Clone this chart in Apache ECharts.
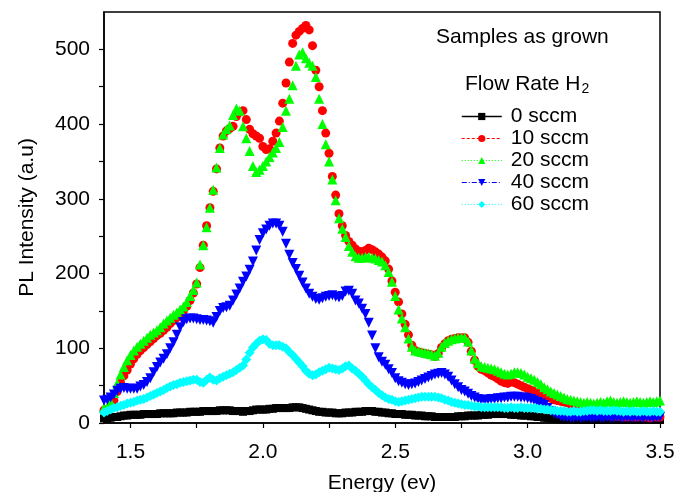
<!DOCTYPE html>
<html>
<head>
<meta charset="utf-8">
<script src="https://cdn.jsdelivr.net/npm/echarts@6/dist/echarts.min.js"></script>
<style>
  html, body { margin: 0; padding: 0; background: #fff; }
  #chart { width: 674px; height: 492px; }
</style>
</head>
<body>
<div id="chart"></div>
<script>
// Photon energy grid (eV)
const energy = [
  1.4,1.4125,1.425,1.4375,1.45,1.4625,1.475,1.4875,
  1.5,1.5125,1.525,1.5375,1.55,1.5625,1.575,1.5875,
  1.6,1.6125,1.625,1.6375,1.65,1.6625,1.675,1.6875,
  1.7,1.7125,1.725,1.7375,1.75,1.7625,1.775,1.7875,
  1.8,1.8125,1.825,1.8375,1.85,1.8625,1.875,1.8875,
  1.9,1.9125,1.925,1.9375,1.95,1.9625,1.975,1.9875,
  2.0,2.0125,2.025,2.0375,2.05,2.0625,2.075,2.0875,
  2.1,2.1125,2.125,2.1375,2.15,2.1625,2.175,2.1875,
  2.2,2.2125,2.225,2.2375,2.25,2.2625,2.275,2.2875,
  2.3,2.3125,2.325,2.3375,2.35,2.3625,2.375,2.3875,
  2.4,2.4125,2.425,2.4375,2.45,2.4625,2.475,2.4875,
  2.5,2.5125,2.525,2.5375,2.55,2.5625,2.575,2.5875,
  2.6,2.6125,2.625,2.6375,2.65,2.6625,2.675,2.6875,
  2.7,2.7125,2.725,2.7375,2.75,2.7625,2.775,2.7875,
  2.8,2.8125,2.825,2.8375,2.85,2.8625,2.875,2.8875,
  2.9,2.9125,2.925,2.9375,2.95,2.9625,2.975,2.9875,
  3.0,3.0125,3.025,3.0375,3.05,3.0625,3.075,3.0875,
  3.1,3.1125,3.125,3.1375,3.15,3.1625,3.175,3.1875,
  3.2,3.2125,3.225,3.2375,3.25,3.2625,3.275,3.2875,
  3.3,3.3125,3.325,3.3375,3.35,3.3625,3.375,3.3875,
  3.4,3.4125,3.425,3.4375,3.45,3.4625,3.475,3.4875,
  3.5
];

// PL intensity (a.u.) for each H2 flow rate
const sccm0 = [
  6,6,7,8,8,9,10,10,
  11,11,11,11,12,12,12,12,
  12,13,13,13,13,13,14,14,
  14,14,15,15,15,15,16,16,
  16,16,16,17,17,17,17,16,
  16,16,15,16,16,17,18,18,
  18,18,19,19,20,20,20,20,
  20,21,21,21,20,19,18,17,
  16,15,15,14,14,14,13,13,
  13,14,14,14,15,15,15,16,
  16,16,15,15,14,14,13,13,
  12,12,12,11,11,11,10,10,
  10,9,9,9,8,8,8,8,
  8,8,8,9,9,9,10,10,
  10,10,11,11,11,12,12,12,
  12,12,12,11,11,11,10,10,
  10,9,9,8,8,7,7,6,
  6,6,5,5,5,5,5,4,
  4,4,4,4,4,4,4,4,
  4,4,4,4,4,4,4,4,
  4,4,4,4,4,4,4,4,
  4
];

const sccm10 = [
  17,18,22,30,42,54,63,71,
  79,86,92,97,101,105,109,113,
  117,120,124,128,133,137,141,146,
  150,156,164,174,186,208,238,264,
  288,310,340,368,384,391,394,397,
  410,416,418,406,393,387,384,381,
  370,366,367,377,388,404,428,455,
  483,508,519,524,528,532,526,505,
  472,450,418,388,361,330,305,280,
  264,251,243,238,233,230,229,231,
  234,232,229,226,222,217,206,190,
  175,162,146,132,118,104,97,95,
  94,93,92,91,89,93,101,106,
  110,112,113,114,114,114,108,96,
  84,76,72,70,67,64,62,59,
  56,54,53,55,54,52,50,48,
  46,44,42,40,38,36,35,33,
  31,30,29,28,27,25,23,21,
  19,17,15,14,13,12,11,11,
  10,10,9,9,9,8,8,9,
  8,8,9,8,8,7,8,8,
  8
];

const sccm20 = [
  20,21,28,40,53,65,75,84,
  91,97,102,106,110,114,118,121,
  124,128,133,137,141,145,148,152,
  156,162,170,178,188,212,238,262,
  288,312,342,368,386,393,398,412,
  421,418,397,381,364,344,336,339,
  344,350,356,362,368,376,396,418,
  434,452,478,493,496,488,482,478,
  463,434,400,373,350,326,298,274,
  260,249,237,229,223,221,221,222,
  222,221,220,218,216,211,202,189,
  170,152,140,128,113,102,97,96,
  95,94,93,92,90,94,102,107,
  110,112,113,114,114,114,109,97,
  86,80,76,75,74,73,72,70,
  68,66,65,66,68,68,67,65,
  62,60,58,55,52,48,45,42,
  40,38,36,34,32,31,30,29,
  28,27,28,27,26,27,28,27,
  29,30,28,27,28,29,28,27,
  28,29,28,27,28,29,28,29,
  30
];

const sccm40 = [
  30,31,34,38,43,46,47,46,
  46,46,46,49,51,55,60,68,
  75,81,86,92,100,108,118,128,
  135,139,140,140,139,138,138,137,
  136,134,142,150,154,155,157,164,
  172,180,189,196,205,216,231,245,
  254,259,264,267,267,264,256,240,
  225,214,206,197,188,180,173,169,
  166,165,167,169,170,171,169,168,
  170,176,177,173,164,160,153,146,
  134,117,100,88,82,78,72,67,
  60,56,54,52,51,52,53,55,
  57,59,61,63,65,66,67,65,
  62,57,52,48,44,42,39,36,
  34,32,31,31,31,32,32,33,
  33,34,34,35,35,35,34,34,
  33,32,30,28,26,24,20,16,
  13,11,9,8,8,7,7,8,
  7,7,8,7,7,8,7,7,
  8,7,7,8,7,7,8,7,
  7,8,7,7,8,7,7,8,
  8
];

const sccm60 = [
  14,16,18,20,21,23,24,26,
  27,28,30,31,32,34,36,38,
  40,42,44,47,49,51,52,54,
  55,56,57,58,58,55,54,58,
  61,58,57,60,62,64,66,68,
  71,74,77,85,94,101,106,110,
  112,111,106,104,104,104,102,100,
  95,91,86,81,76,70,66,64,
  65,68,70,72,74,73,72,71,
  73,76,77,73,70,66,62,57,
  52,48,44,40,37,34,32,31,
  29,28,29,30,31,32,33,34,
  35,35,35,35,35,34,33,31,
  30,28,27,26,25,24,24,23,
  22,22,21,21,21,21,21,21,
  21,20,20,21,20,20,21,20,
  20,20,20,19,19,18,18,17,
  17,16,16,16,15,15,16,15,
  15,16,16,17,17,16,17,16,
  16,16,17,16,16,15,16,15,
  16,15,15,16,15,15,16,15,
  15
];

const seriesNames = ['0 sccm', '10 sccm', '20 sccm', '40 sccm', '60 sccm'];
const xTicks = [1.5, 1.75, 2.0, 2.25, 2.5, 2.75, 3.0, 3.25, 3.5];
const xTickLabels = [1.5, 2.0, 2.5, 3.0, 3.5];
const yTicks = [0, 50, 100, 150, 200, 250, 300, 350, 400, 450, 500];
const yTickLabels = [0, 100, 200, 300, 400, 500];

const FONT = '"Liberation Sans", Arial, sans-serif';

function pairs(ys) { return energy.map((e, i) => [e, ys[i]]); }

const styles = [
  { data: sccm0,  color: '#000000', symbol: 'rect',     size: 8,  rotate: 0,   line: 'solid',      lw: 1.5 },
  { data: sccm10, color: '#ff0000', symbol: 'circle',   size: 9,  rotate: 0,   line: [3, 2],       lw: 1 },
  { data: sccm20, color: '#00ff00', symbol: 'triangle', size: 10, rotate: 0,   line: [1, 2],       lw: 1 },
  { data: sccm40, color: '#0000ff', symbol: 'triangle', size: 10, rotate: 180, line: [5, 2, 1, 2], lw: 1 },
  { data: sccm60, color: '#00ffff', symbol: 'diamond',  size: 10, rotate: 0,   line: [1, 2],       lw: 1 }
];

const chart = echarts.init(document.getElementById('chart'), null, { renderer: 'canvas' });

chart.setOption({
  animation: false,
  backgroundColor: '#ffffff',
  title: [
    {
      text: 'Samples as grown',
      left: 436, top: 27, padding: 0,
      textStyle: { fontFamily: FONT, fontSize: 21, fontWeight: 'normal', color: '#000' }
    },
    {
      text: 'Flow Rate H{sub|2}',
      left: 465, top: 73, padding: 0,
      textStyle: {
        fontFamily: FONT, fontSize: 21, fontWeight: 'normal', color: '#000',
        rich: { sub: { fontFamily: FONT, fontSize: 14, color: '#000', padding: [9, 0, 0, 1] } }
      }
    }
  ],
  legend: {
    orient: 'vertical',
    left: 456, top: 101,
    itemWidth: 40, itemHeight: 9, itemGap: 1,
    selectedMode: false,
    textStyle: { fontFamily: FONT, fontSize: 21, color: '#000', lineHeight: 21, padding: [0, 0, 0, 4] },
    data: seriesNames.map((n, i) => ({
      name: n,
      lineStyle: { width: styles[i].lw, type: styles[i].line, color: styles[i].color, opacity: 1 }
    }))
  },
  grid: {
    left: 104, right: 14, top: 12, bottom: 69,
    outerBoundsMode: 'none',
    containLabel: false,
    show: true, borderColor: '#000', borderWidth: 1.5, backgroundColor: 'transparent'
  },
  xAxis: {
    type: 'value',
    min: 1.4, max: 3.5,
    name: 'Energy (ev)',
    nameLocation: 'middle', nameGap: 50,
    nameTextStyle: { fontFamily: FONT, fontSize: 21, color: '#000' },
    axisLine: { show: true, lineStyle: { color: '#000', width: 1.5 } },
    axisTick: { show: true, inside: false, length: 5, lineStyle: { color: '#000', width: 1.2 }, customValues: xTicks },
    axisLabel: {
      customValues: xTickLabels,
      fontFamily: FONT, fontSize: 21, color: '#000', margin: 19,
      formatter: v => Number(v).toFixed(1)
    },
    splitLine: { show: false }
  },
  yAxis: {
    type: 'value',
    min: 0, max: 550,
    name: 'PL Intensity (a.u)',
    nameLocation: 'middle', nameGap: 66, nameRotate: 90,
    nameTextStyle: { fontFamily: FONT, fontSize: 21, color: '#000' },
    axisLine: { show: true, lineStyle: { color: '#000', width: 1.5 } },
    axisTick: { show: true, inside: false, length: 5, lineStyle: { color: '#000', width: 1.2 }, customValues: yTicks },
    axisLabel: {
      customValues: yTickLabels,
      fontFamily: FONT, fontSize: 21, color: '#000', margin: 14
    },
    splitLine: { show: false }
  },
  series: seriesNames.map((n, i) => ({
    name: n,
    type: 'line',
    data: pairs(styles[i].data),
    symbol: styles[i].symbol,
    symbolSize: styles[i].size,
    symbolRotate: styles[i].rotate,
    showSymbol: true,
    showAllSymbol: true,
    color: styles[i].color,
    itemStyle: { color: styles[i].color, borderWidth: 0 },
    lineStyle: { width: 0, color: styles[i].color, type: styles[i].line },
    emphasis: { disabled: true },
    z: 2 + i
  }))
});
</script>
</body>
</html>
